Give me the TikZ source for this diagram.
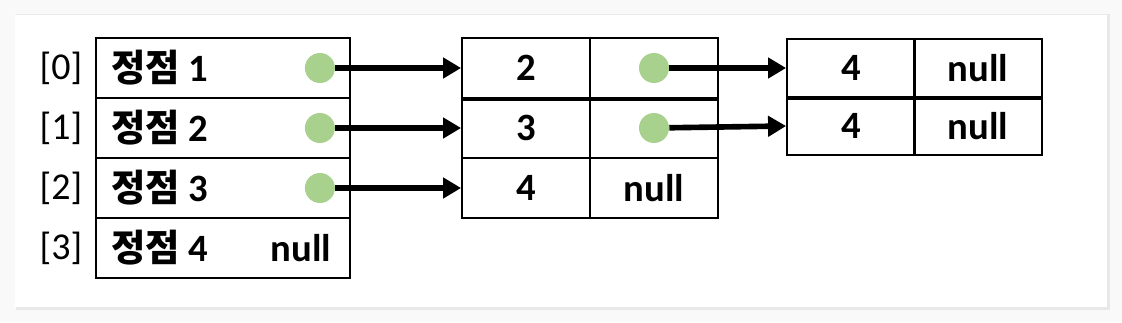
\documentclass[tikz,border=0pt]{standalone}
\usepackage{fontspec}
\setmainfont{Carlito}
\newfontfamily\kr{Noto Sans CJK KR}
\usetikzlibrary{arrows.meta,calc,positioning}
\definecolor{dotgreen}{HTML}{A9D18E}

\begin{document}
\begin{tikzpicture}[
  cell/.style={draw,line width=1.3pt,minimum height=1.5cm,minimum width=#1,inner sep=0pt,
               font=\fontsize{27.5}{30}\selectfont\bfseries},
  cell/.default=3.2cm,
  ptr/.style={circle,fill=dotgreen,minimum size=0.75cm,inner sep=0pt},
  link/.style={-{Triangle[length=0.45cm,width=0.5cm]},line width=4pt},
  idx/.style={font=\fontsize{27}{30}\selectfont},
  vname/.style={anchor=west,inner sep=0pt,font=\fontsize{27.5}{30}\selectfont\bfseries}]
  % page and card
  \fill[gray!5] (0,0) rectangle (28.05,8.05);
  \fill[gray!18] (0.4,0.3) rectangle (27.75,7.7);
  \fill[white] (0.375,0.375) rectangle (27.675,7.675);
  \useasboundingbox (0,0) rectangle (28.05,8.05);
  % vertex array
  \foreach \i/\y in {1/6.35,2/4.85,3/3.35,4/1.85} {
    \pgfmathtruncatemacro\k{\i-1}
    \node[cell=6.35cm] (v\i) at (5.575,\y) {};
    \node[vname] (n\i) at ($(v\i.west)+(0.4,0)$) {{\kr\fontsize{26.5}{30}\selectfont 정점} \i};
    \node[idx] (k\i) at (1.525,\y) {[\k]};
  }
  \foreach \i in {1,2,3} \node[ptr] (p\i) at ($(v\i.east)+(-0.775,0)$) {};
  \node[cell=0pt,draw=none] (nl) at ($(v4.east)+(-1.25,0)$) {null};
  % first list nodes
  \foreach \i/\y/\val in {1/6.35/2,2/4.85/3,3/3.35/4} {
    \node[cell] (a\i) at (13.15,\y) {\val};
    \node[cell] (b\i) at (16.35,\y) {};
  }
  \node[cell=0pt,draw=none] (nl3) at (b3) {null};
  \draw[line width=2.4pt] (a1.south west) -- (b1.south east);
  \node[ptr] (q1) at (b1) {};
  \node[ptr] (q2) at (b2) {};
  % second list nodes
  \foreach \i/\y in {1/6.35,2/4.9} {
    \node[cell,minimum height=1.45cm] (c\i) at (21.275,\y) {4};
    \node[cell,minimum height=1.45cm] (d\i) at (24.45,\y) {null};
  }
  \draw[line width=2.4pt] (c1.south west) -- (d1.south east);
  % links
  \foreach \p/\t in {p1/a1,p2/a2,p3/a3,q1/c1,q2/c2} \draw[link] (\p) -- (\t.west);
\end{tikzpicture}
\end{document}
